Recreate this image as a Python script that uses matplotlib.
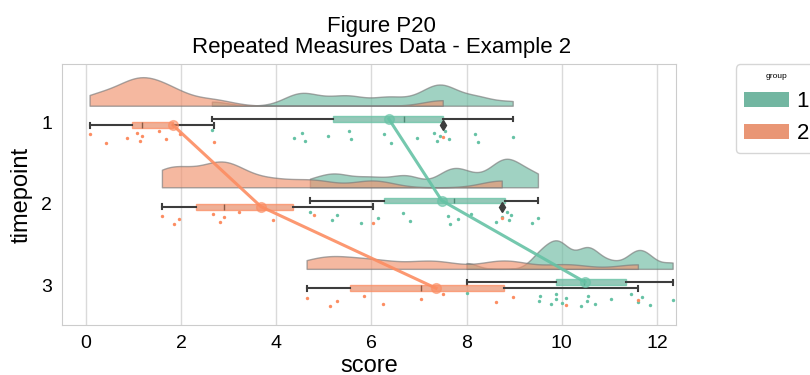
import colorsys
import numpy as np
import matplotlib
matplotlib.use("Agg")
import matplotlib.pyplot as plt
from matplotlib.patches import Patch
from matplotlib.colors import to_rgb

plt.rcParams['font.family'] = ['Liberation Sans', 'DejaVu Sans']

timepoints = ['1', '2', '3']
groups = ['1', '2']

g1_t1 = [2.65, 4.37, 4.54, 4.60, 5.08, 5.53, 5.57, 6.26, 6.41, 6.95, 7.31, 7.37, 7.44, 7.54, 7.63, 8.17, 8.24, 8.97]
g1_t2 = [4.71, 5.18, 5.27, 5.78, 6.13, 6.66, 6.81, 7.61, 7.66, 7.82, 8.10, 8.61, 8.74, 8.84, 8.90, 8.94, 9.37, 9.50]
g1_t3 = [8.00, 9.52, 9.54, 9.77, 9.87, 9.89, 10.00, 10.08, 10.40, 10.54, 10.56, 10.70, 11.03, 11.45, 11.60, 11.68, 11.85, 12.33]
g2_t1 = [0.08, 0.43, 0.86, 1.07, 1.13, 1.19, 1.54, 1.68, 1.97, 2.69, 7.50]
g2_t2 = [1.60, 1.85, 1.96, 2.67, 2.82, 2.90, 3.21, 3.93, 4.79, 6.03, 8.74]
g2_t3 = [4.64, 5.13, 5.27, 5.84, 6.24, 7.04, 7.50, 8.61, 8.97, 10.10, 11.60]

scores = {'1': [g1_t1, g1_t2, g1_t3], '2': [g2_t1, g2_t2, g2_t3]}

palette = {'1': '#66c2a5', '2': '#fc8d62'}


def desaturate(c, prop=0.75):
    h, l, s = colorsys.rgb_to_hls(*to_rgb(c))
    return colorsys.hls_to_rgb(h, l, s * prop)


def kde(vals, n=120, bw=0.2):
    x = np.asarray(vals, float)
    h = bw * x.std(ddof=1)
    grid = np.linspace(x.min(), x.max(), n)
    d = np.exp(-0.5 * ((grid[:, None] - x[None, :]) / h) ** 2).sum(1)
    return grid, d / (len(x) * h * np.sqrt(2 * np.pi))


fig = plt.figure(figsize=(8.1, 3.75), dpi=100)
ax = fig.add_axes([0.0765, 0.133, 0.758, 0.696])

offset = 0.2      # cloud baseline distance
width_viol = 0.7
dodge = {'1': -0.0375, '2': 0.0375}

for i in range(len(timepoints)):
    # clouds
    dens = {g: kde(scores[g][i]) for g in groups}
    top = max(d.max() for _, d in dens.values())
    for g in groups:
        grid, d = dens[g]
        ax.fill_between(grid, i - offset, i - offset - d / top * width_viol / 2,
                        facecolor=desaturate(palette[g], 0.85), edgecolor='#7a7a7a',
                        lw=1, alpha=0.65, zorder=2)

    # boxes
    for g in groups:
        c = desaturate(palette[g])
        ax.boxplot(scores[g][i], positions=[i + dodge[g]], orientation='horizontal',
                   widths=0.07, capwidths=0.06, patch_artist=True, manage_ticks=False,
                   boxprops=dict(facecolor=c, edgecolor=palette[g], lw=1, alpha=0.75),
                   whiskerprops=dict(color='#3d3d3d', lw=1.5),
                   capprops=dict(color='#3d3d3d', lw=1.5),
                   medianprops=dict(color='#8a5a45' if g == '2' else '#4e8a75', lw=1),
                   flierprops=dict(marker='d', markerfacecolor='#3d3d3d',
                                   markeredgecolor='#3d3d3d', markersize=5),
                   zorder=4)

    # rain
    for g in groups:
        v = np.asarray(scores[g][i])
        k = np.arange(len(v)) + (0 if g == '1' else 7)
        jit = ((k * 0.618034) % 1 - 0.5) * 0.16
        ax.scatter(v, i + 0.18 + jit, s=6, color=palette[g], lw=0, zorder=3)

# means
for g in groups:
    means = [np.mean(v) for v in scores[g]]
    ys = [i + dodge[g] for i in range(len(timepoints))]
    ax.plot(means, ys, color=palette[g], lw=2.2, zorder=6, alpha=0.9)
    ax.plot(means, ys, 'o', color=palette[g], ms=7, alpha=0.6, zorder=7)

ax.set_xlim(-0.5, 12.4)
ax.set_ylim(2.49, -0.71)
ax.set_xticks(range(0, 13, 2))
ax.set_yticks(range(len(timepoints)))
ax.set_yticklabels(timepoints)
ax.tick_params(length=0, labelsize=14, pad=7)
ax.grid(axis='x', color='#dadada', lw=1)
ax.set_axisbelow(True)
for s in ax.spines.values():
    s.set_color('#cccccc')
ax.set_xlabel('score', fontsize=17, labelpad=2)
ax.set_ylabel('timepoint', fontsize=17, labelpad=6)
ax.set_title('Figure P20\nRepeated Measures Data - Example 2', fontsize=16,
             x=0.521, pad=8, linespacing=1.0)

handles = [Patch(facecolor=desaturate(palette[g]), edgecolor='none') for g in groups]
leg = ax.legend(handles, groups, title='group', loc='upper left',
                bbox_to_anchor=(1.097, 1.0), borderaxespad=0, fontsize=16,
                title_fontsize=6, frameon=True, handletextpad=0.35)
leg.get_frame().set_edgecolor('#cccccc')

fig.savefig('out.png', dpi=100)
